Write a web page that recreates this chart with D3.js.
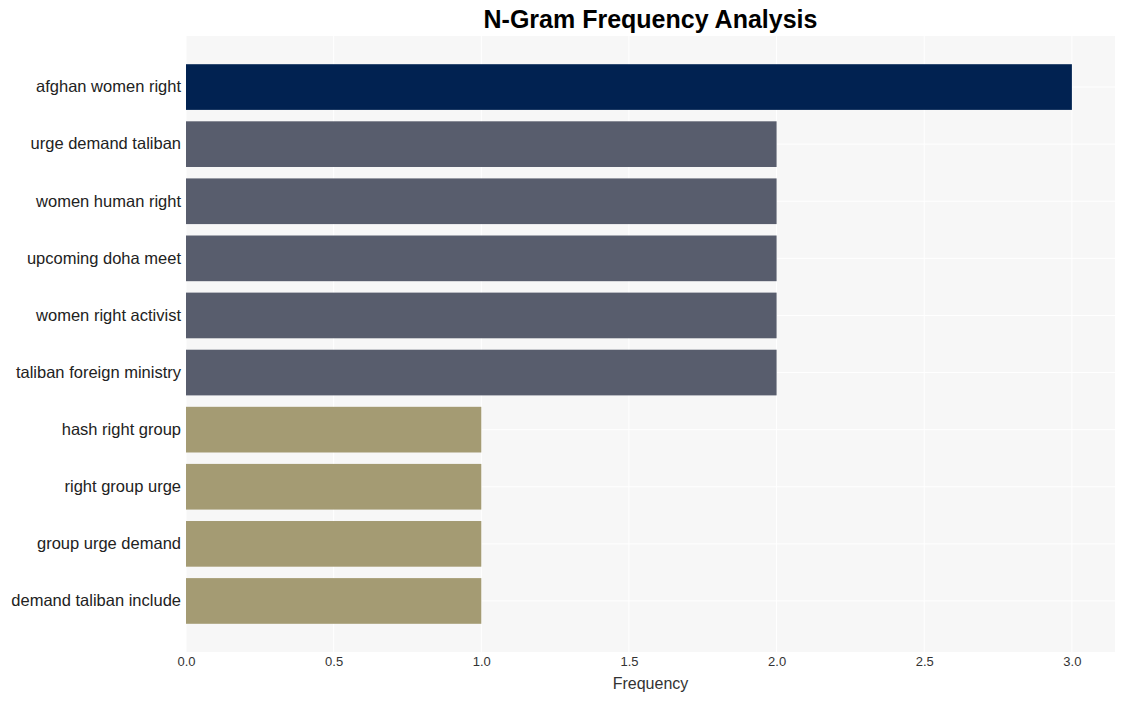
<!DOCTYPE html>
<html><head><meta charset="utf-8">
<script src="https://cdn.jsdelivr.net/npm/d3@7"></script>
<style>body{margin:0;background:#fff;}svg{display:block;font-family:Arial,"Liberation Sans",sans-serif;}</style>
</head><body>
<svg id="chart" width="1126" height="701"></svg>
<script>
const categories = ["afghan women right","urge demand taliban","women human right","upcoming doha meet","women right activist","taliban foreign ministry","hash right group","right group urge","group urge demand","demand taliban include"];
const values = [3,2,2,2,2,2,1,1,1,1];
const colors = ["#012251","#585d6d","#585d6d","#585d6d","#585d6d","#585d6d","#a49b73","#a49b73","#a49b73","#a49b73"];
const xTicks = [0,0.5,1,1.5,2,2.5,3];
const title = "N-Gram Frequency Analysis";
const xLabel = "Frequency";

const svg = d3.select("#chart");
const m = {left:186, right:1115, top:36, bottom:652};
const x = d3.scaleLinear().domain([0, 3.146]).range([m.left, m.right]);
const y = d3.scaleBand().domain(categories).range([m.top, m.bottom]).paddingInner(0.2).paddingOuter(0.494);

svg.append("rect").attr("x",m.left).attr("y",m.top).attr("width",m.right-m.left).attr("height",m.bottom-m.top).attr("fill","#f7f7f7");

svg.append("g").selectAll("line").data(xTicks).join("line")
  .attr("x1",d=>x(d)).attr("x2",d=>x(d)).attr("y1",m.top).attr("y2",m.bottom)
  .attr("stroke","#ffffff").attr("stroke-width",1);
svg.append("g").selectAll("line").data(categories).join("line")
  .attr("x1",m.left).attr("x2",m.right).attr("y1",d=>y(d)+y.bandwidth()/2).attr("y2",d=>y(d)+y.bandwidth()/2)
  .attr("stroke","#ffffff").attr("stroke-width",1);

svg.append("g").selectAll("rect").data(categories).join("rect")
  .attr("x",x(0)).attr("y",d=>y(d)).attr("height",y.bandwidth())
  .attr("width",(d,i)=>x(values[i])-x(0)).attr("fill",(d,i)=>colors[i]);

const xa = svg.append("g").attr("transform",`translate(0,${m.bottom})`)
  .call(d3.axisBottom(x).tickValues(xTicks).tickFormat(d3.format(".1f")).tickSize(0).tickPadding(5));
xa.select(".domain").remove();
xa.selectAll("text").attr("font-size",13).attr("fill","#333").attr("font-family","Arial,'Liberation Sans',sans-serif");

const ya = svg.append("g").attr("transform",`translate(${m.left},0)`)
  .call(d3.axisLeft(y).tickSize(0).tickPadding(5));
ya.select(".domain").remove();
ya.selectAll("text").attr("font-size",16.5).attr("fill","#222").attr("font-family","Arial,'Liberation Sans',sans-serif");

svg.append("text").attr("x",(m.left+m.right)/2).attr("y",28).attr("text-anchor","middle")
  .attr("font-size",25).attr("font-weight","bold").attr("fill","#000").text(title);
svg.append("text").attr("x",(m.left+m.right)/2).attr("y",689).attr("text-anchor","middle")
  .attr("font-size",16).attr("fill","#333").text(xLabel);
</script>
</body></html>
